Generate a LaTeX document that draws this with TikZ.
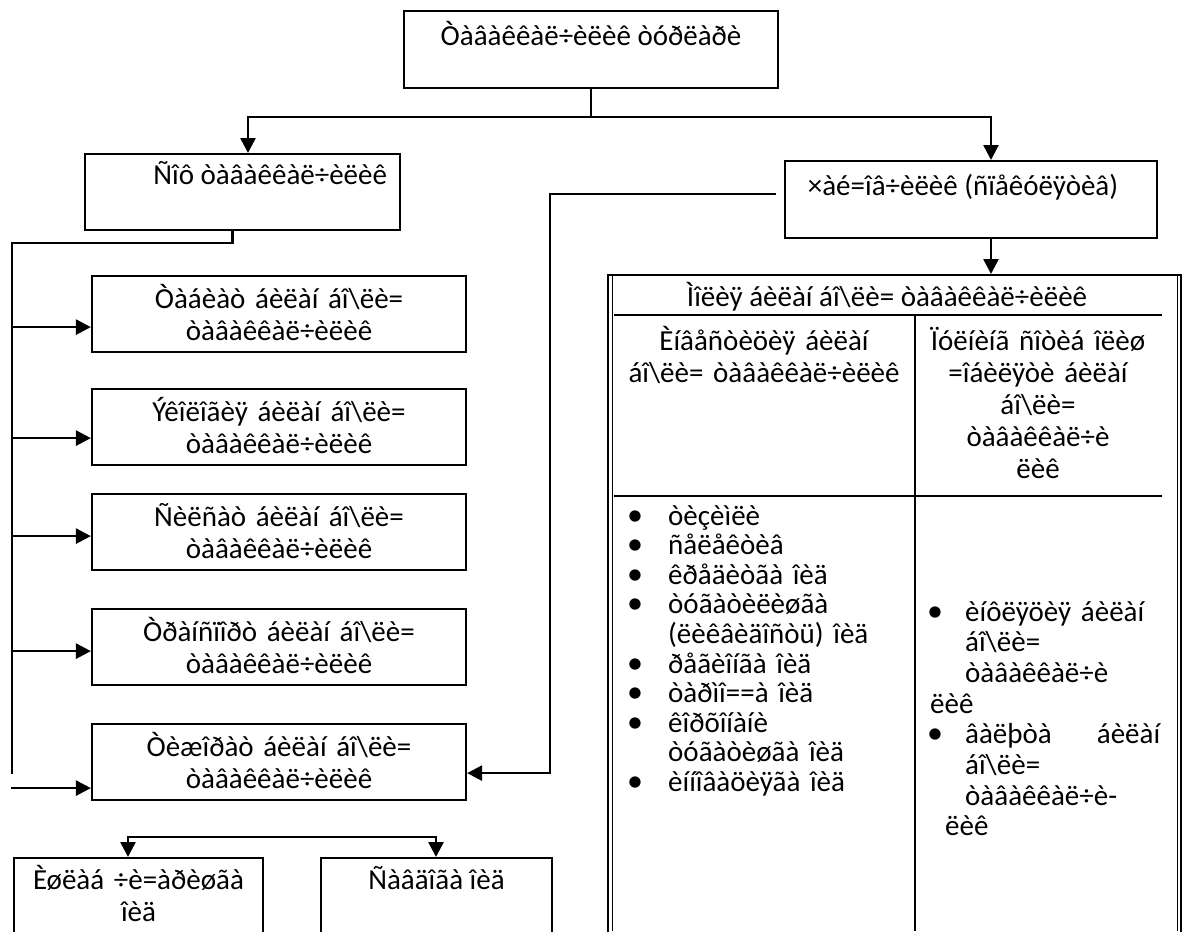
\documentclass[tikz,border=0pt]{standalone}
\usepackage{fontspec}
\setmainfont{Carlito}
\usetikzlibrary{arrows.meta,calc}

\newcommand{\bsl}{\textbackslash}
\newcommand{\bdot}{\raisebox{0pt}[0pt][0pt]{\fontsize{32}{32}\selectfont\textbullet}}
\newcommand{\lbul}{\makebox[28pt][c]{\bdot}\hspace*{19pt}}
\newcommand{\lgap}{\hspace*{47pt}}
\newcommand{\rbul}{\makebox[28pt][c]{\bdot}\hspace*{16pt}}
\newcommand{\rgap}{\hspace*{44pt}}

\begin{document}
\begin{tikzpicture}[x=1pt,y=-1pt,
    font=\fontsize{29}{31}\selectfont,
    box/.style={draw, line width=2.2pt, inner sep=0pt},
    pbox/.style={box, align=center, text width=#1, minimum width=#1},
    link/.style={line width=2.6pt},
    arr/.style={link, -{Triangle[length=15pt,width=15pt]}},
    rulel/.style={line width=2pt},
    cell/.style={inner sep=0pt, align=center, anchor=base},
    blist/.style={inner sep=0pt, align=left, anchor=base west},
]
\clip (0,0) rectangle (1182,931);
\fill[white] (0,0) rectangle (1182,931);

% top and first level
\node[box, minimum width=374pt, text height=34pt, text depth=43pt, anchor=north] (top) at (591,10) {Òàâàêêàë÷èëèê òóðëàðè};
\node[box, minimum width=315pt, text height=30pt, text depth=46pt, anchor=north] (sof) at (242.5,153) {\makebox[289pt][r]{Ñîô òàâàêêàë÷èëèê}};
\node[box, minimum width=372pt, text height=34pt, text depth=43pt, anchor=north] (chay) at (971,160) {\hspace*{-16pt}×àé=îâ÷èëèê (ñïåêóëÿòèâ)};

\coordinate (jl) at (248,117);
\coordinate (jr) at (991,117);
\draw[arr] (top.south) -- (top.south |- jl) -- (jl) -- (jl |- sof.north);
\draw[arr] (top.south |- jl) -- (jr) -- (jr |- chay.north);

% left column
\foreach \n/\y/\lbl in {b1/275/Òàáèàò, b2/388/Ýêîëîãèÿ, b3/493/Ñèëñàò, b4/608/Òðàíñïîðò, b5/723/Òèæîðàò}
  \node[pbox=374pt, text height=32pt, text depth=44pt, anchor=north, font=\fontsize{29}{32.5}\selectfont] (\n) at (279,\y) {\lbl{} áèëàí áî\bsl ëè=\\òàâàêêàë÷èëèê};

\coordinate (bus) at (12,243);
\coordinate (busend) at (12,774);
\draw[link] ([xshift=-10pt]sof.south) |- (bus) -- (busend);
\foreach \n/\dy in {b1/13, b2/11, b3/4, b4/4}
  \draw[arr] (\n.west) ++(-80,\dy) -- ++(80,0);
\draw[arr] (b5.west) ++(-80,26) -- ++(80,0);

\draw[arr] ([xshift=-8pt,yshift=5.5pt]chay.west) -| ($(b5.east)+(83,11)$) -- ($(b5.east)+(0,11)$);

% bottom pair
\node[pbox=249pt, text height=31pt, text depth=69pt, anchor=north, font=\fontsize{29}{32}\selectfont] (ish) at (138.5,857) {Èøëàá ÷è=àðèøãà\\îèä};
\node[box, minimum width=231pt, text height=31pt, text depth=69pt, anchor=north] (sav) at (436.5,857) {Ñàâäîãà îèä};
\coordinate (bl) at (128,837);
\coordinate (br) at (436,837);
\draw[arr] (br) -- (bl) -- (bl |- ish.north);
\draw[arr] (bl) -- (br) -- (br |- sav.north);

% table
\node[draw, line width=2pt, minimum width=573pt, minimum height=700pt, inner sep=0pt, anchor=north] (tbl) at (894.5,274) {};
\draw[line width=1pt] (612,274) -- (612,931);
\draw[line width=1pt] (1177,274) -- (1177,931);
\draw[arr] (jr |- chay.south) -- (jr |- tbl.north);
\draw[rulel] (614,315) -- (1162,315);
\draw[rulel] (614,496) -- (1162,496);
\draw[rulel] (915,315) -- (915,931);

\node[cell] (hdr) at (887,306) {Ìîëèÿ áèëàí áî\bsl ëè= òàâàêêàë÷èëèê};
\node[cell, text width=300pt, font=\fontsize{29}{32}\selectfont] (inv) at (764,350) {Èíâåñòèöèÿ áèëàí\\áî\bsl ëè= òàâàêêàë÷èëèê};
\node[cell, text width=240pt, font=\fontsize{29}{32}\selectfont] (pul) at (1038,350) {Ïóëíèíã ñîòèá îëèø\\=îáèëÿòè áèëàí\\áî\bsl ëè=\\òàâàêêàë÷è\\ëèê};

\node[blist, text width=280pt, font=\fontsize{29}{29.6}\selectfont] (lrisk) at (621,525) {\lbul òèçèìëè\\
\lbul ñåëåêòèâ\\
\lbul êðåäèòãà îèä\\
\lbul òóãàòèëèøãà\\
\lgap (ëèêâèäîñòü) îèä\\
\lbul ðåãèîíãà îèä\\
\lbul òàðìî==à îèä\\
\lbul êîðõîíàíè\\
\lgap òóãàòèøãà îèä\\
\lbul èííîâàöèÿãà îèä};

\node[blist, text width=250pt, font=\fontsize{29}{30.7}\selectfont] (rrisk) at (921,621) {\rbul èíôëÿöèÿ áèëàí\\
\rgap áî\bsl ëè=\\
\rgap òàâàêêàë÷è\\
\hspace*{9pt}ëèê\\
\rbul \makebox[195pt]{âàëþòà\hfill áèëàí}\\
\rgap áî\bsl ëè=\\
\rgap òàâàêêàë÷è-\\
\hspace*{24pt}ëèê};
\end{tikzpicture}
\end{document}
